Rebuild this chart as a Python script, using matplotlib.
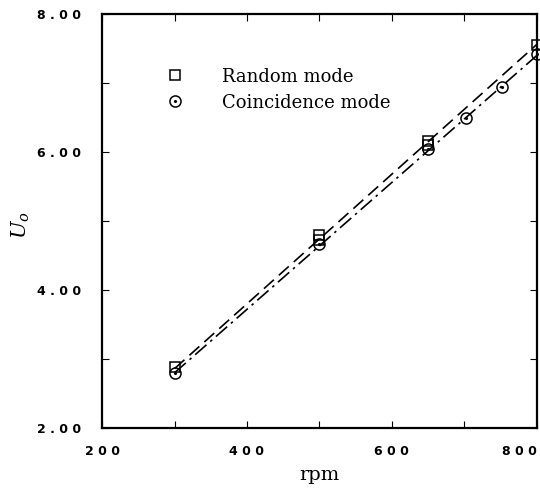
import numpy as np
import matplotlib
matplotlib.use('Agg')
import matplotlib.pyplot as plt
from matplotlib.ticker import FixedLocator, FuncFormatter
from matplotlib.lines import Line2D

plt.rcParams['mathtext.fontset'] = 'dejavuserif'

# Random mode (squares)
rpm_rand = [300, 500, 500, 650, 650, 800]
u_rand = [2.88, 4.80, 4.73, 6.16, 6.10, 7.55]
# Coincidence mode (dotted circles)
rpm_coin = [300, 500, 650, 702, 752, 800]
u_coin = [2.80, 4.67, 6.05, 6.50, 6.94, 7.42]
# fitted lines (end points)
fit_x = [300, 800]
fit_rand = [2.86, 7.56]
fit_coin = [2.80, 7.40]

fig = plt.figure(figsize=(5.4, 4.88), dpi=100)
ax = fig.add_axes([0.189, 0.123, 0.805, 0.848])

ax.plot(fit_x, fit_rand, color='black', lw=1.2, ls=(0, (8, 4)))
ax.plot(fit_x, fit_coin, color='black', lw=1.2, ls=(0, (9, 3, 1.5, 3)))

ax.plot(rpm_rand, u_rand, ls='none', marker='s', ms=7.5, mfc='none', mec='black', mew=1.1, clip_on=False)
ax.plot(rpm_coin, u_coin, ls='none', marker='o', ms=8, mfc='none', mec='black', mew=1.1, clip_on=False)
ax.plot(rpm_coin, u_coin, ls='none', marker='.', ms=2.5, color='black', clip_on=False)

ax.set_xlim(200, 800)
ax.set_ylim(2, 8)

ax.xaxis.set_major_locator(FixedLocator(np.arange(200, 801, 100)))
ax.yaxis.set_major_locator(FixedLocator(np.arange(2, 8.01, 1)))

def xfmt(v, pos):
    if int(round(v)) % 200 == 0:
        return ' '.join('%d' % v)
    return ''

def yfmt(v, pos):
    if int(round(v)) % 2 == 0:
        return ' '.join('%.2f' % v)
    return ''

ax.xaxis.set_major_formatter(FuncFormatter(xfmt))
ax.yaxis.set_major_formatter(FuncFormatter(yfmt))
ax.tick_params(direction='in', length=5, width=0.8, top=True, right=True,
               labelsize=9)
ax.tick_params(axis='y', pad=15)
ax.tick_params(axis='x', pad=12)
for lab in ax.get_xticklabels() + ax.get_yticklabels():
    lab.set_fontweight('bold')
    lab.set_family('DejaVu Sans')
ax.get_xticklabels()[-1].set_ha('right')
ax.get_xticklabels()[-1].set_x(803)
for s in ax.spines.values():
    s.set_linewidth(1.6)

ax.set_xlabel('rpm', fontsize=14, family='DejaVu Serif', labelpad=6)
ax.set_ylabel(r'$\mathbf{\mathit{U_o}}$', fontsize=15, rotation=90)
ax.yaxis.set_label_coords(-0.161, 0.49)

h1 = Line2D([], [], ls='none', marker='s', ms=7.5, mfc='none', mec='black', mew=1.1)
h2o = Line2D([], [], ls='none', marker='o', ms=8, mfc='none', mec='black', mew=1.1)
h2d = Line2D([], [], ls='none', marker='.', ms=2.5, color='black')
ax.legend([h1, (h2o, h2d)], ['Random mode', 'Coincidence mode'],
          loc='upper left', bbox_to_anchor=(0.09, 0.91), frameon=False,
          handletextpad=1.6, labelspacing=0.45,
          prop={'family': 'DejaVu Serif', 'size': 13})

fig.savefig('out.png', dpi=100)
